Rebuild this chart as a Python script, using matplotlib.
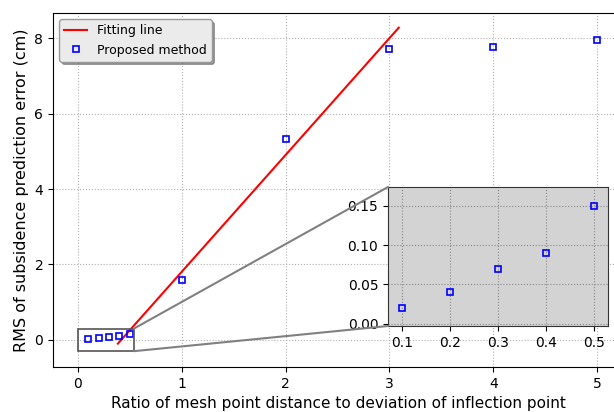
import matplotlib
matplotlib.use("Agg")
import matplotlib.pyplot as plt
from matplotlib.patches import Rectangle, ConnectionPatch

# mesh ratio vs RMS error
ratio = [0.1, 0.2, 0.3, 0.4, 0.5, 1, 2, 3, 4, 5]
rms = [0.02, 0.04, 0.07, 0.09, 0.15, 1.58, 5.33, 7.72, 7.77, 7.96]

# fitted line end points
fit_x = [0.385, 3.09]
fit_y = [-0.1, 8.28]

fig = plt.figure(figsize=(6.14, 4.12), dpi=100)
ax = fig.add_axes([53 / 614, 45 / 412, 570 / 614, 354 / 412])

ax.plot(fit_x, fit_y, color="red", lw=1.5, label="Fitting line")
ax.plot(ratio, rms, ls="none", marker="s", ms=5, mfc="none", mec="blue",
        mew=1.2, label="Proposed method")
ax.set_xlim(-0.24, 5.25)
ax.set_ylim(-0.72, 8.67)
ax.set_xticks([0, 1, 2, 3, 4, 5])
ax.set_yticks([0, 2, 4, 6, 8])
ax.grid(True, ls=":", color="#b0b0b0", lw=0.8)
ax.set_xlabel("Ratio of mesh point distance to deviation of inflection point", fontsize=11)
ax.set_ylabel("RMS of subsidence prediction error (cm)", fontsize=11.5)
leg = ax.legend(loc="upper left", shadow=True, fancybox=True, fontsize=9,
                handlelength=1.8)
leg.get_frame().set_facecolor("#ebebeb")
leg.get_frame().set_edgecolor("#999999")

# zoom box around the small ratios
ax.add_patch(Rectangle((0, -0.3), 0.54, 0.6, fill=False, ec="#555555", lw=1.2, zorder=3))

axins = fig.add_axes([388 / 614, (412 - 326) / 412, 220 / 614, 139 / 412])
axins.set_facecolor("#d3d3d3")
axins.plot(ratio[:5], rms[:5], ls="none", marker="s", ms=5, mfc="none",
           mec="blue", mew=1.2)
axins.set_xlim(0.071, 0.529)
axins.set_ylim(-0.003, 0.174)
axins.set_xticks([0.1, 0.2, 0.3, 0.4, 0.5])
axins.set_yticks([0.0, 0.05, 0.10, 0.15])
axins.grid(True, ls=":", color="#888888", lw=0.8)
for s in axins.spines.values():
    s.set_color("#333333")

for xa, ya in [((0.54, 0.3), (0, 1)), ((0.54, -0.3), (0, 0))]:
    con = ConnectionPatch(xyA=xa, coordsA=ax.transData, xyB=ya,
                          coordsB=axins.transAxes, color="#808080", lw=1.5)
    fig.add_artist(con)

fig.savefig("out.png", dpi=100)
